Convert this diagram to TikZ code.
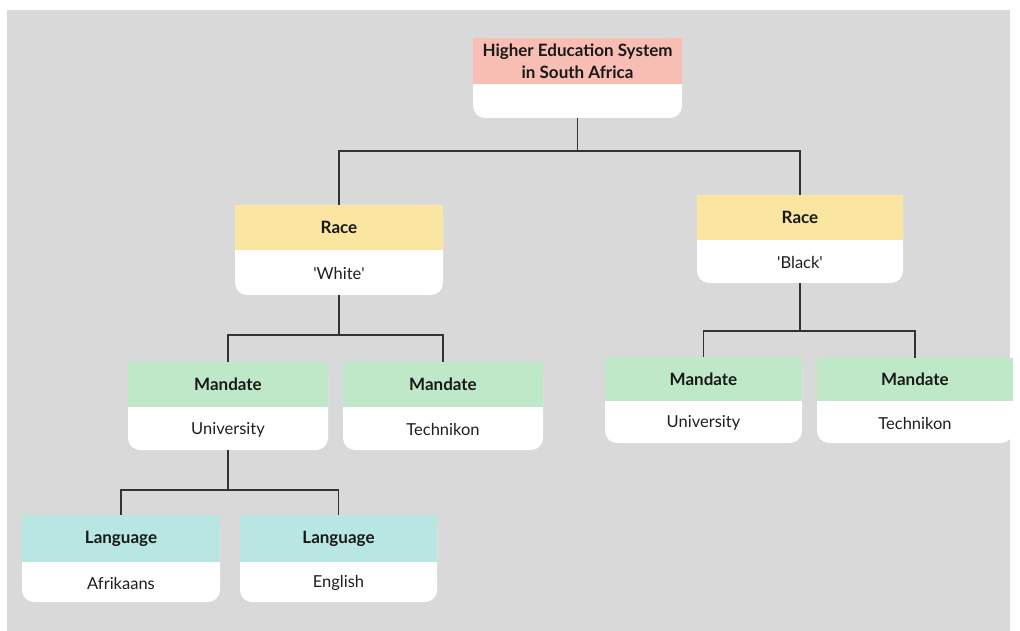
\documentclass[tikz,border=0pt]{standalone}
\usepackage{fontspec}
\setmainfont{Lato}
\usetikzlibrary{fit}

\definecolor{panelgray}{HTML}{D9D9D9}
\definecolor{tierpink}{HTML}{F8BEB4}
\definecolor{tieryellow}{HTML}{FAE6A0}
\definecolor{tiergreen}{HTML}{BEE8C8}
\definecolor{tierteal}{HTML}{B8E6E2}
\definecolor{linkgray}{HTML}{333333}

\tikzset{
  boxframe/.style={draw=none, inner sep=0pt},
  titletext/.style={font=\fontsize{17}{22}\selectfont\bfseries, text=black!90, align=center, inner sep=0pt},
  subtext/.style={font=\fontsize{16.5}{20}\selectfont, text=black!88, align=center, inner sep=0pt},
  link/.style={draw=linkgray, line width=1.2pt},
}

% #1 name, #2 left, #3 top, #4 right, #5 band bottom, #6 box bottom,
% #7 band colour, #8 heading, #9 value
\newcommand\tierbox[9]{%
  \node[boxframe, fit={(#2,#3) (#4,#6)}] (#1) {};
  \fill[white, rounded corners=12pt] (#2,#3) rectangle (#4,#6);
  \fill[#7] (#2,#3) rectangle (#4,#5);
  \node[titletext] (#1-title) at ({(#2+#4)/2},{(#3+#5)/2}) {#8};
  \node[subtext] (#1-value) at ({(#2+#4)/2},{(#5+#6)/2+1}) {#9};
}
\newcommand\sq{\textquotesingle}

\begin{document}
\begin{tikzpicture}[x=1pt, y=-1pt]
  \useasboundingbox (0,0) rectangle (1020,631);
  \fill[white] (0,0) rectangle (1020,631);
  \fill[panelgray] (7,10) rectangle (1010,631);

  \tierbox{root}{473}{38}{682}{84}{118}{tierpink}{Higher Education System\\in South Africa}{}
  \tierbox{white}{235}{205}{443}{250}{295}{tieryellow}{Race}{\sq White\sq}
  \tierbox{black}{697}{195}{903}{240}{283}{tieryellow}{Race}{\sq Black\sq}
  \tierbox{uniL}{128}{362}{328}{407}{450}{tiergreen}{Mandate}{University}
  \tierbox{techL}{343}{362}{543}{407}{450}{tiergreen}{Mandate}{Technikon}
  \tierbox{uniR}{605}{357}{802}{401}{443}{tiergreen}{Mandate}{University}
  \tierbox{techR}{817}{358}{1013}{401}{443}{tiergreen}{Mandate}{Technikon}
  \tierbox{afr}{22}{515}{220}{562}{602}{tierteal}{Language}{Afrikaans}
  \tierbox{eng}{240}{515}{437}{562}{602}{tierteal}{Language}{English}

  % junction points of the tree
  \coordinate (jroot) at (root.south |- 0,151);
  \coordinate (jwhite) at (white.south |- 0,335);
  \coordinate (jblack) at (black.south |- 0,331);
  \coordinate (juni) at (uniL.south |- 0,490);

  \draw[link] (root.south) -- (jroot);
  \draw[link] (white.north) |- (jroot) -| (black.north);
  \draw[link] (white.south) -- (jwhite);
  \draw[link] (uniL.north) |- (jwhite) -| (techL.north);
  \draw[link] (black.south) -- (jblack);
  \draw[link] (uniR.north) |- (jblack) -| (techR.north);
  \draw[link] (uniL.south) -- (juni);
  \draw[link] (afr.north) |- (juni) -| (eng.north);
\end{tikzpicture}
\end{document}
